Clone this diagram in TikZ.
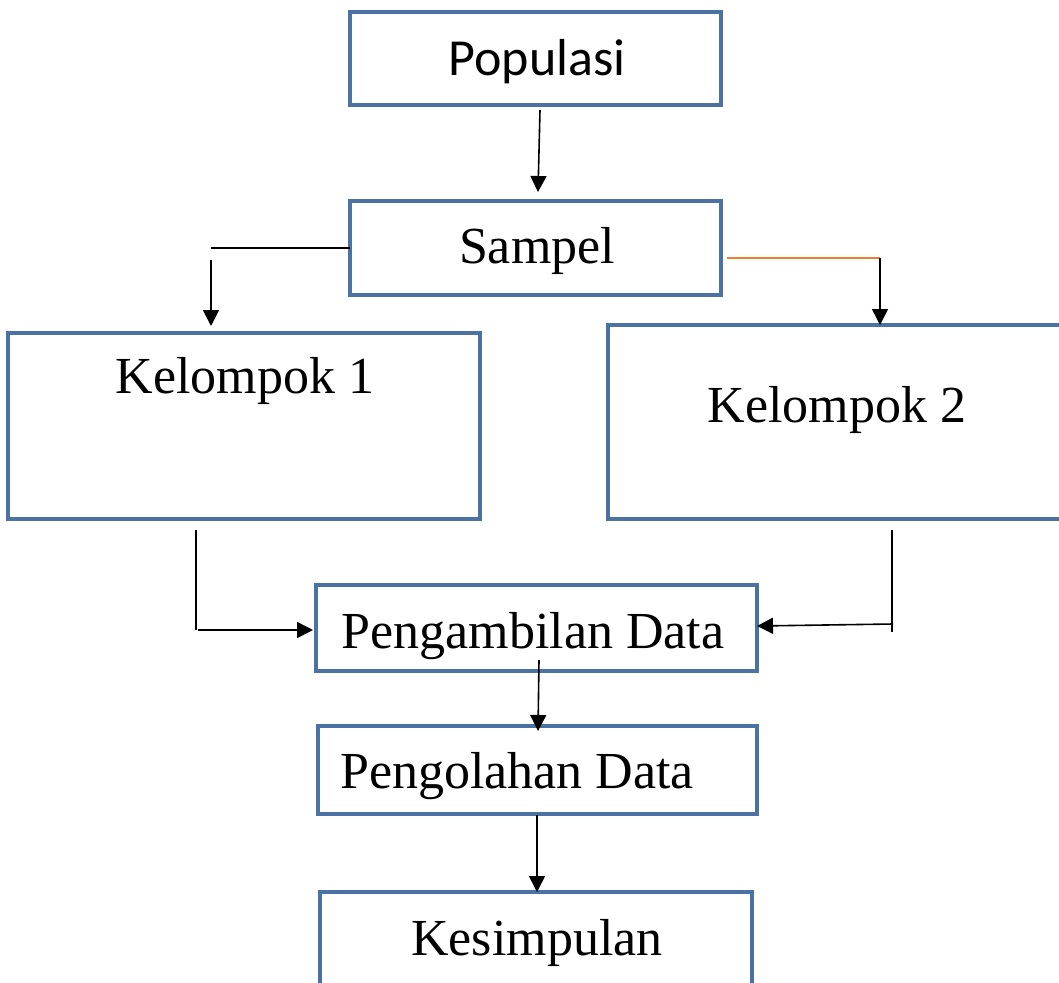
\documentclass[tikz,border=0pt]{standalone}
\usepackage{fontspec}
\setmainfont{Liberation Serif}
\newfontfamily\calibri{Carlito}
\usetikzlibrary{arrows.meta,calc}
\definecolor{boxblue}{HTML}{4A73A3}
\definecolor{orangeline}{HTML}{ED7D31}
\tikzset{
  box/.style={draw=boxblue, line width=3.2pt, rectangle, outer sep=0pt, inner sep=0pt, fill=none},
  txt/.style={anchor=base, inner sep=0pt, font=\fontsize{52}{60}\selectfont},
  conn/.style={line width=1.6pt, black},
  arr/.style={conn, -{Triangle[length=16pt,width=16pt]}},
}
\begin{document}
\begin{tikzpicture}[x=1pt,y=-1pt]
\useasboundingbox (0,0) rectangle (1059,982);
\clip (0,0) rectangle (1059,982);
% boxes
\node[box, minimum width=371pt, minimum height=93pt] (pop) at (535.5,58.5) {};
\node[box, minimum width=371pt, minimum height=94pt] (sam) at (535.5,248) {};
\node[box, minimum width=472pt, minimum height=186pt] (k1) at (244,426) {};
\node[box, minimum width=480pt, minimum height=194pt] (k2) at (848,422) {};
\node[box, minimum width=441pt, minimum height=86pt] (pa) at (536.5,628) {};
\node[box, minimum width=439pt, minimum height=88pt] (po) at (537.5,770) {};
\node[box, minimum width=432pt, minimum height=120pt] (ke) at (536,952) {};
% texts
\node[txt, font=\calibri\fontsize{52}{60}\selectfont] (tpop) at (537,75) {Populasi};
\node[txt] (tsam) at (537,263) {Sampel};
\node[txt] (tk1) at (245,393) {Kelompok 1};
\node[txt] (tk2) at (837,422) {Kelompok 2};
\node[txt] (tpa) at (533,648) {Pengambilan Data};
\node[txt, anchor=base west] (tpo) at (340,788) {Pengolahan Data};
\node[txt] (tke) at (537,955) {Kesimpulan};
% connectors
\draw[arr] ([xshift=4.5pt,yshift=-5pt]pop.south) -- ([xshift=2.5pt,yshift=9pt]sam.north);
\coordinate (sl) at (211,248);
\draw[conn] (sam.west) -- (sl);
\draw[arr] ([yshift=-12pt]sl) -- ([yshift=7pt]k1.north -| sl);
\coordinate (sr) at (880,258);
\draw[orangeline, line width=1.6pt] ([xshift=6pt]sam.east |- sr) -- (sr);
\draw[arr] (sr) -- (k2.north -| sr);
\coordinate (k1a) at (196,530);
\coordinate (k1b) at (196,630);
\draw[conn] (k1a) -- (k1b);
\draw[arr] ([xshift=2pt]k1b) -- ([xshift=-3pt]pa.west |- k1b);
\coordinate (k2a) at (892,530);
\coordinate (k2b) at (892,632);
\draw[conn] (k2a) -- (k2b);
\draw[arr] (893,624) -- ([yshift=2pt]pa.east);
\draw[arr] ([xshift=2.5pt,yshift=11pt]pa.south) -- ([xshift=0.5pt,yshift=-5pt]po.north);
\draw[arr] ([xshift=-0.5pt,yshift=-1pt]po.south) -- ([xshift=1pt]ke.north);
\end{tikzpicture}
\end{document}
